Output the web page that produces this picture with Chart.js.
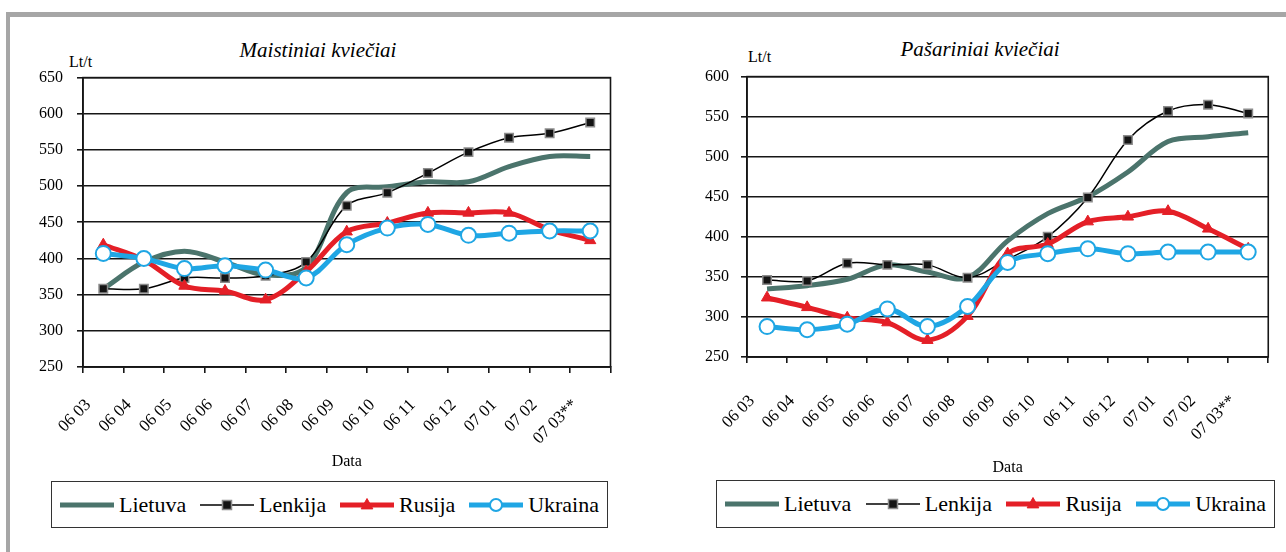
<!DOCTYPE html>
<html>
<head>
<meta charset="utf-8">
<script src="https://cdn.jsdelivr.net/npm/chart.js@4.4.1/dist/chart.umd.min.js"></script>
<style>
  html, body { margin:0; padding:0; background:#fff; }
  body { width:1286px; height:552px; position:relative; overflow:hidden; color:#000; }
  #frame { position:absolute; left:6px; top:12px; width:1400px; height:700px;
           border-left:4px solid #a6a6a6; border-top:5px solid #a6a6a6; box-sizing:border-box; }
  canvas { position:absolute; }
  .title { position:absolute; font-style:italic; white-space:nowrap; transform:translate(-50%,-50%); }
  .unit { position:absolute; white-space:nowrap; transform:translateY(-50%); }
  .legend { position:absolute; box-sizing:border-box; border:1.5px solid #333; background:#fff;
            display:flex; align-items:center; justify-content:space-between; padding:0 8px; }
  .legend .item { display:flex; align-items:center; }
  .legend svg { margin-right:5px; }
</style>
</head>
<body>
<div id="frame"></div>

<div class="title" style="left:318px; top:50px;">Maistiniai kviečiai</div>
<div class="unit" style="left:69px; top:62px;">Lt/t</div>
<canvas id="food" width="607" height="417" style="left:20px; top:54px;"></canvas>
<div class="legend" id="legFood" style="left:51px; top:481px; width:557px; height:47px;"></div>

<div class="title" style="left:980px; top:49px;">Pašariniai kviečiai</div>
<div class="unit" style="left:748px; top:57px;">Lt/t</div>
<canvas id="feed" width="601" height="422" style="left:690px; top:55px;"></canvas>
<div class="legend" id="legFeed" style="left:716px; top:480px; width:559px; height:48px;"></div>

<script>
// ---- data ----
const categories = ["06 03","06 04","06 05","06 06","06 07","06 08","06 09","06 10","06 11","06 12","07 01","07 02","07 03**"];
const seriesNames = ["Lietuva","Lenkija","Rusija","Ukraina"];

// Maistiniai kviečiai (Lt/t)
const foodLietuva = [358,395,410,395,377,388,491,499,506,506,527,541,541];
const foodLenkija = [358,358,373,373,376,395,473,491,518,547,567,573,588];
const foodRusija  = [419,398,362,355,343,382,437,449,463,463,463,440,425];
const foodUkraina = [407,400,386,390,384,373,419,442,447,432,435,438,438];
const foodTicks   = [250,300,350,400,450,500,550,600,650];

// Pašariniai kviečiai (Lt/t)
const feedLietuva = [335,339,347,365,356,349,395,429,450,481,519,525,530];
const feedLenkija = [346,345,367,365,365,349,372,400,449,521,557,565,554];
const feedRusija  = [324,312,299,293,271,301,379,391,419,425,432,410,385];
const feedUkraina = [288,284,291,310,288,313,368,379,385,379,381,381,381];
const feedTicks   = [250,300,350,400,450,500,550,600];

// ---- font detection: prefer a Times-like serif ----
function hasFont(name) {
  const c = document.createElement('canvas').getContext('2d');
  const s = 'Maistiniai kviečiai 0123456789 Lietuva WMil';
  for (const base of ['monospace', 'sans-serif']) {
    c.font = `40px ${base}`;
    const a = c.measureText(s).width;
    c.font = `40px "${name}", ${base}`;
    const b = c.measureText(s).width;
    if (Math.abs(a - b) < 0.5) return false;
  }
  return true;
}
const fontScale = { 'Liberation Serif': 1, 'Tinos': 1, 'Times New Roman': 1, 'Nimbus Roman': 1,
                    'FreeSerif': 1, 'Noto Serif': 0.87, 'DejaVu Serif': 0.84 };
let FONT_NAME = Object.keys(fontScale).find(hasFont);
let K = FONT_NAME ? fontScale[FONT_NAME] : 0.9;
if (!FONT_NAME) FONT_NAME = 'Liberation Sans';
const FONT = `"${FONT_NAME}", serif`;
document.body.style.fontFamily = FONT;
const fs = v => Math.round(v * K * 10) / 10;
document.querySelectorAll('.title').forEach(e => e.style.fontSize = fs(21) + 'px');
document.querySelectorAll('.unit').forEach(e => e.style.fontSize = fs(16) + 'px');
document.querySelectorAll('.legend').forEach(e => e.style.fontSize = fs(22) + 'px');

// ---- styles ----
const lineColors  = ['#4b746c', '#000000', '#e41f27', '#1fa6e4'];
const lineWidths  = [5, 1.5, 5, 5];
const ptStyles    = ['circle', 'rect', 'triangle', 'circle'];
const ptRadii     = [0, 6, 6.5, 7.5];
const ptFill      = ['#4b746c', '#141414', '#e41f27', '#ffffff'];
const ptBorder    = ['#4b746c', '#8c8c8c', '#e41f27', '#1fa6e4'];
const ptBorderW   = [0, 1.5, 1, 2];
const GRID = '#161616';

const frameBorder = {
  id: 'frameBorder',
  beforeDatasetsDraw(chart) {
    const { ctx, chartArea: a } = chart;
    ctx.save();
    ctx.strokeStyle = GRID;
    ctx.lineWidth = 1.6;
    ctx.strokeRect(a.left, a.top, a.right - a.left, a.bottom - a.top);
    ctx.restore();
  }
};

function makeChart(id, values, yTicks, geom) {
  const datasets = seriesNames.map((name, i) => ({
    label: name,
    data: values[i],
    borderColor: lineColors[i],
    borderWidth: lineWidths[i],
    backgroundColor: ptFill[i],
    pointStyle: ptStyles[i],
    pointRadius: ptRadii[i],
    pointBackgroundColor: ptFill[i],
    pointBorderColor: ptBorder[i],
    pointBorderWidth: ptBorderW[i],
    pointHoverRadius: ptRadii[i],
    tension: 0.35,
    fill: false,
    order: 4 - i
  }));
  const tickFont = { family: FONT, size: fs(16) };
  const xTickFont = { family: FONT, size: fs(17) };
  return new Chart(document.getElementById(id), {
    type: 'line',
    data: { labels: categories, datasets },
    options: {
      responsive: false,
      animation: false,
      layout: { padding: 0 },
      plugins: { legend: { display: false }, tooltip: { enabled: false }, title: { display: false } },
      scales: {
        x: {
          offset: true,
          grid: { offset: true, drawOnChartArea: false, drawTicks: true, tickLength: 6, color: GRID, lineWidth: 1.6 },
          border: { display: true, color: GRID, width: 1.6 },
          ticks: { autoSkip: false, minRotation: 45, maxRotation: 45, padding: geom.labelPad, labelOffset: -15,
                   color: '#000', font: xTickFont },
          title: { display: true, text: 'Data', color: '#000', font: tickFont, padding: 0 },
          afterFit(s) { s.height = geom.xHeight; }
        },
        y: {
          min: yTicks[0],
          max: yTicks[yTicks.length - 1],
          afterBuildTicks(s) { s.ticks = yTicks.map(v => ({ value: v })); },
          grid: { color: GRID, lineWidth: 1.6, drawTicks: true, tickLength: 6 },
          border: { display: true, color: GRID, width: 1.6 },
          ticks: { padding: geom.tickPad, color: '#000', font: tickFont },
          afterFit(s) { s.width = geom.yWidth; }
        }
      }
    },
    plugins: [frameBorder]
  });
}

makeChart('food', [foodLietuva, foodLenkija, foodRusija, foodUkraina], foodTicks,
          { yWidth: 63, xHeight: 104, labelPad: 22, tickPad: 14 });
makeChart('feed', [feedLietuva, feedLenkija, feedRusija, feedUkraina], feedTicks,
          { yWidth: 57, xHeight: 120, labelPad: 28, tickPad: 12 });

// ---- legends (built from the series definitions) ----
function sampleSvg(i) {
  const w = 54, h = 16, cy = 8, cx = w / 2;
  let s = `<svg width="${w}" height="${h}" viewBox="0 0 ${w} ${h}">`;
  s += `<line x1="0" y1="${cy}" x2="${w}" y2="${cy}" stroke="${lineColors[i]}" stroke-width="${lineWidths[i]}"/>`;
  if (ptStyles[i] === 'rect' && ptRadii[i] > 0) {
    const r = ptRadii[i] * 0.75;
    s += `<rect x="${cx - r}" y="${cy - r}" width="${2 * r}" height="${2 * r}" fill="${ptFill[i]}" stroke="${ptBorder[i]}" stroke-width="${ptBorderW[i]}"/>`;
  } else if (ptStyles[i] === 'triangle' && ptRadii[i] > 0) {
    const r = ptRadii[i];
    s += `<polygon points="${cx},${cy - r} ${cx + r * 0.9},${cy + r * 0.6} ${cx - r * 0.9},${cy + r * 0.6}" fill="${ptFill[i]}" stroke="${ptBorder[i]}"/>`;
  } else if (ptStyles[i] === 'circle' && ptRadii[i] > 0) {
    s += `<circle cx="${cx}" cy="${cy}" r="${ptRadii[i] - 1.5}" fill="${ptFill[i]}" stroke="${ptBorder[i]}" stroke-width="${ptBorderW[i]}"/>`;
  }
  return s + '</svg>';
}
function buildLegend(id) {
  const el = document.getElementById(id);
  el.innerHTML = seriesNames.map((n, i) =>
    `<span class="item">${sampleSvg(i)}<span>${n}</span></span>`).join('');
}
buildLegend('legFood');
buildLegend('legFeed');
</script>
</body>
</html>
